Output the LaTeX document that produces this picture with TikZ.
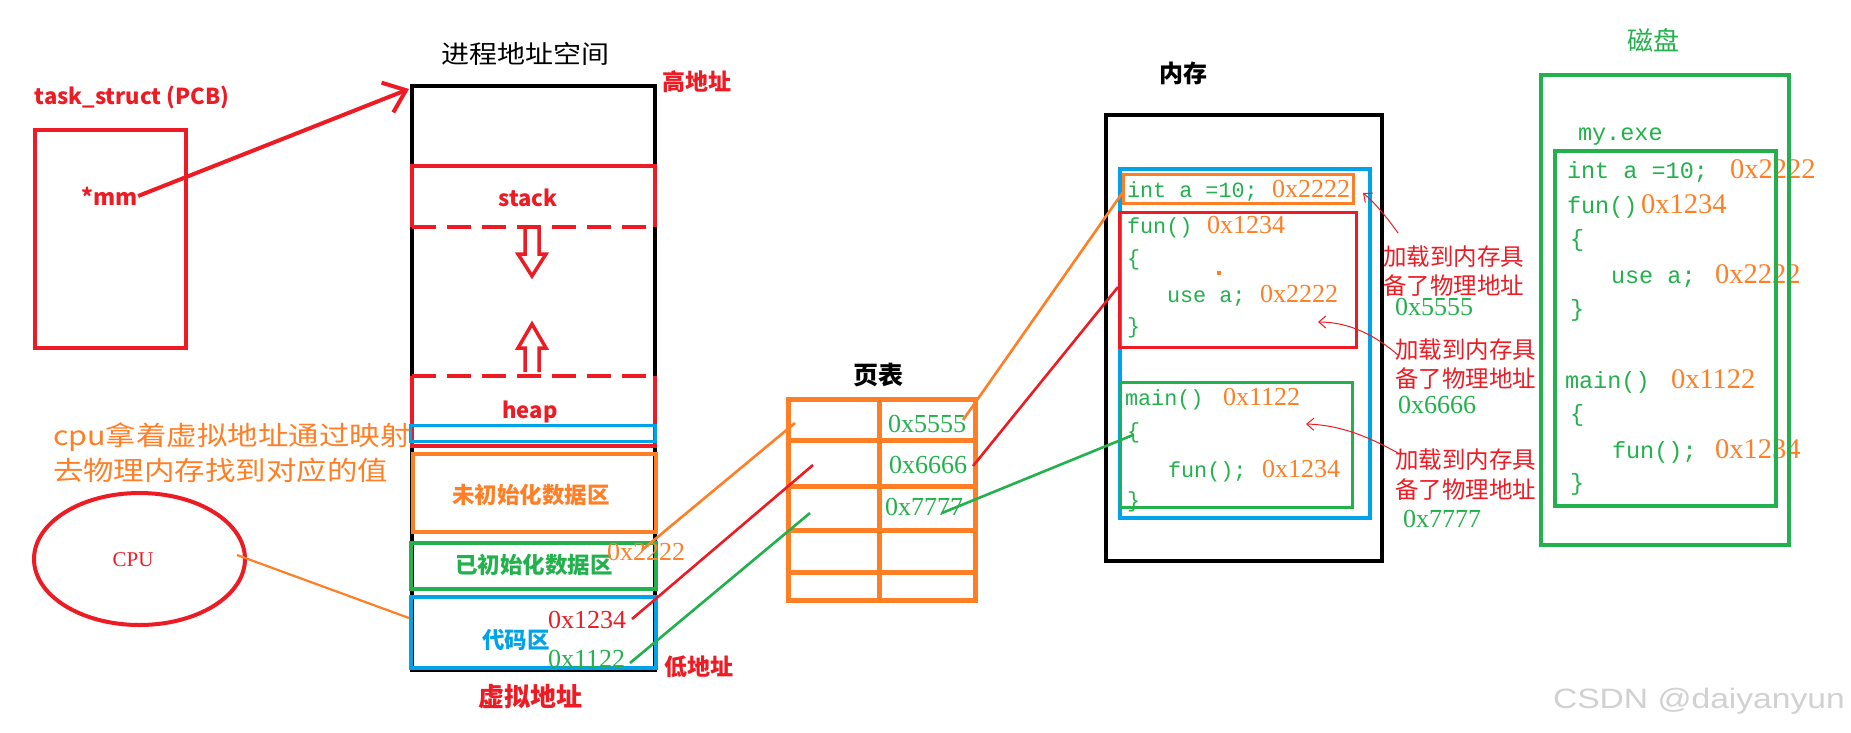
\documentclass[tikz,border=0pt]{standalone}
\usepackage{fontspec}
\usepackage{graphicx}
\setmainfont{Noto Sans CJK SC}
\newfontfamily\codefont{Liberation Mono}
\newfontfamily\hexfont{Liberation Serif}
\newfontfamily\markfont{Liberation Sans}
\usetikzlibrary{arrows.meta,shapes.geometric}
\definecolor{pred}{HTML}{ED1C24}
\definecolor{porange}{HTML}{FF7F27}
\definecolor{pgreen}{HTML}{22B14C}
\definecolor{pblue}{HTML}{00A2E8}
\newcommand{\fsz}[1]{\fontsize{#1}{#1}\selectfont}

\begin{document}
\begin{tikzpicture}[x=1pt,y=-1pt,
  every node/.style={inner sep=0pt,outer sep=0pt},
  memcode/.style={anchor=base west,text=pgreen,font=\codefont\fsz{21.8}},
  memhex/.style={anchor=base west,text=porange,font=\hexfont\fsz{26}},
  dskcode/.style={anchor=base west,text=pgreen,font=\codefont\fsz{23.5}},
  dskhex/.style={anchor=base west,text=porange,font=\hexfont\fsz{28.5}},
  grnhex/.style={anchor=base west,text=pgreen,font=\hexfont\fsz{26}},
  redhex/.style={anchor=base west,text=pred,font=\hexfont\fsz{26}},
  orghex/.style={anchor=base west,text=porange,font=\hexfont\fsz{26}},
  boldlab/.style={font=\bfseries\fsz{#1}},
  note/.style={anchor=west,text=pred,font=\fsz{23.5}},
  frame/.style={line width=4pt},
  thinbox/.style={line width=3pt},
  maplink/.style={line width=2.6pt},
  gapline/.style={dash pattern=on 24pt off 11pt},
  noteline/.style={line width=1pt,pred,-{Straight Barb[length=7pt,width=12pt]}},
]
\fill[white] (0,0) rectangle (1851,732);
\useasboundingbox (0,0) rectangle (1851,732);

% ---------- task_struct ----------
\node[boldlab=22,text=pred] (pcbtitle) at (132,97) {task\_struct (PCB)};
\draw[pred,frame] (35,130) rectangle (186,348);
\node[boldlab=22.5,text=pred] (mm) at (110,196) {*mm};

% ---------- virtual address space ----------
\node[font=\fsz{25}] (vastitle) at (525,54) {\scalebox{1.12}[1]{进程地址空间}};
\draw[frame] (412,86) rectangle (655,670);
\coordinate (vastop) at (409,89);

% stack
\draw[pred,frame] (412,227) -- (412,166) -- (655,166) -- (655,227);
\draw[pred,frame,gapline] (412,227) -- (655,227);
\node[boldlab=22,text=pred] (stack) at (528,198) {stack};
\draw[pred,line width=3.5pt,line join=miter]
  (525,229) -- (525,254) -- (518,254) -- (532,276) -- (546,254) -- (539,254) -- (539,229);

% heap
\draw[pred,line width=3.5pt,line join=miter]
  (525,372) -- (525,348) -- (518,348) -- (532,324) -- (546,348) -- (539,348) -- (539,372);
\draw[pred,frame] (412,376) -- (412,446) -- (655,446) -- (655,376);
\draw[pred,frame,gapline] (412,376) -- (655,376);
\node[boldlab=22,text=pred] (heap) at (530,412) {heap};
\draw[pblue,line width=3pt] (410,425.5) rectangle (655,441.5);

% data and code segments
\draw[porange,frame] (413,454) rectangle (656,532);
\node[boldlab=22.5,text=porange] (bss) at (531,495) {未初始化数据区};
\draw[pgreen,frame] (411,543) rectangle (656,589);
\node[boldlab=22.5,text=pgreen] (data) at (534,565) {已初始化数据区};
\draw[pblue,frame] (411,597) rectangle (656,668);
\node[boldlab=22.5,text=pblue] (text) at (516,640) {代码区};

\node[boldlab=23,text=pred] (high) at (697,82) {高地址};
\node[boldlab=23,text=pred] (low) at (699,667) {低地址};
\node[boldlab=26,text=pred] (vaddr) at (530,697) {虚拟地址};

\node[orghex] (va2222) at (607,560) {0x2222};
\node[redhex] (va1234) at (548,628) {0x1234};
\node[grnhex] (va1122) at (548,667) {0x1122};

\draw[pred,line width=4pt,-{Straight Barb[length=20pt,width=32pt]}] (mm.east) -- (vastop);

% ---------- CPU ----------
\node[anchor=west,text=porange,font=\fsz{26.5}] (cpunote1) at (53,437)
  {\scalebox{1.15}[1]{cpu拿着虚拟地址通过映射}};
\node[anchor=west,text=porange,font=\fsz{26.5}] (cpunote2) at (53,470)
  {\scalebox{1.15}[1]{去物理内存找到对应的值}};
\node[ellipse,draw=pred,line width=4pt,minimum width=211pt,minimum height=132pt] (cpu) at (139.5,559) {};
\node[text=pred,font=\hexfont\fsz{21}] (cpulabel) at (133,560) {CPU};
\coordinate (cpuport) at (237,555);
\coordinate (codeport) at (409,618);
\draw[porange,line width=2.2pt] (cpuport) -- (codeport);

% ---------- page table ----------
\node[font=\bfseries\fsz{25}] (pttitle) at (878,375) {页表};
\draw[porange,line width=5pt] (788.5,399.5) rectangle (975.5,600.5);
\draw[porange,line width=5pt] (879,399.5) -- (879,600.5);
\foreach \r in {440,486,530.5,572.5}
  \draw[porange,line width=5pt] (788.5,\r) -- (975.5,\r);
\node[grnhex] (pa5555) at (888,432) {0x5555};
\node[grnhex] (pa6666) at (889,473) {0x6666};
\node[grnhex] (pa7777) at (885,515) {0x7777};

% ---------- physical memory ----------
\node[font=\bfseries\fsz{24}] (memtitle) at (1183,73) {内存};
\draw[frame] (1106,115) rectangle (1382,561);
\draw[pblue,frame] (1120,169) rectangle (1370,518);
\draw[porange,thinbox] (1123.5,174.5) rectangle (1353.5,203.5);
\draw[pred,thinbox] (1119.5,212.5) rectangle (1356.5,347.5);
\draw[pgreen,thinbox] (1120.5,382.5) rectangle (1352.5,507.5);

\node[memcode] (mint) at (1127,197) {int a =10;};
\node[memhex] (mh2222) at (1272,197) {0x2222};
\node[memcode] (mfun) at (1127,233) {fun()};
\node[memhex] (mh1234) at (1207,233) {0x1234};
\node[memcode] (mfo) at (1127,265) {\{};
\node[memcode] (muse) at (1167,302) {use a;};
\node[memhex] (mhuse) at (1260,302) {0x2222};
\node[memcode] (mfc) at (1127,333) {\}};
\node[memcode] (mmain) at (1125,405) {main()};
\node[memhex] (mh1122) at (1223,405) {0x1122};
\node[memcode] (mmo) at (1127,438) {\{};
\node[memcode] (mcall) at (1168,477) {fun();};
\node[memhex] (mhcall) at (1262,477) {0x1234};
\node[memcode] (mmc) at (1127,507) {\}};
\fill[porange] (1217,271) rectangle (1221,275);

% ---------- mapping links ----------
\coordinate (v1) at (642,550);  \coordinate (p1in) at (795,423);
\coordinate (p1out) at (963,420); \coordinate (m1) at (1123,192);
\coordinate (v2) at (632,619);  \coordinate (p2in) at (813,465);
\coordinate (p2out) at (973,466); \coordinate (m2) at (1118,287);
\coordinate (v3) at (630,663);  \coordinate (p3in) at (810,513);
\coordinate (p3out) at (942,513); \coordinate (m3) at (1133,435);
\draw[porange,maplink] (v1) -- (p1in);
\draw[porange,maplink] (p1out) -- (m1);
\draw[pred,maplink] (v2) -- (p2in);
\draw[pred,maplink] (p2out) -- (m2);
\draw[pgreen,maplink] (v3) -- (p3in);
\draw[pgreen,maplink] (p3out) -- (m3);

% ---------- load notes ----------
\node[note] (n1a) at (1383,257) {加载到内存具};
\node[note] (n1b) at (1383,286) {备了物理地址};
\node[grnhex] (n1c) at (1395,315) {0x5555};
\node[note] (n2a) at (1395,350) {加载到内存具};
\node[note] (n2b) at (1395,379) {备了物理地址};
\node[grnhex] (n2c) at (1398,413) {0x6666};
\node[note] (n3a) at (1395,460) {加载到内存具};
\node[note] (n3b) at (1395,490) {备了物理地址};
\node[grnhex] (n3c) at (1403,527) {0x7777};
\coordinate (s1) at (1398,233); \coordinate (t1) at (1363,193);
\coordinate (s2) at (1398,355); \coordinate (t2) at (1318,322);
\coordinate (s3) at (1398,453); \coordinate (t3) at (1306,424);
\draw[noteline] (s1) .. controls (1386,216) and (1373,201) .. (t1);
\draw[noteline] (s2) .. controls (1376,336) and (1350,322) .. (t2);
\draw[noteline] (s3) .. controls (1376,441) and (1345,425) .. (t3);

% ---------- disk ----------
\node[text=pgreen,font=\fsz{26}] (dsktitle) at (1653,40) {磁盘};
\node[dskcode] (dexe) at (1578,140) {my.exe};
\node[dskcode] (dint) at (1567,178) {int a =10;};
\node[dskhex] (dh2222) at (1730,178) {0x2222};
\node[dskcode] (dfun) at (1567,213) {fun()};
\node[dskhex] (dh1234) at (1641,213) {0x1234};
\node[dskcode] (dfo) at (1570,246) {\{};
\node[dskcode] (duse) at (1611,283) {use a;};
\node[dskhex] (dhuse) at (1715,283) {0x2222};
\node[dskcode] (dfc) at (1570,316) {\}};
\node[dskcode] (dmain) at (1565,388) {main()};
\node[dskhex] (dh1122) at (1671,388) {0x1122};
\node[dskcode] (dmo) at (1570,421) {\{};
\node[dskcode] (dcall) at (1612,458) {fun();};
\node[dskhex] (dhcall) at (1715,458) {0x1234};
\node[dskcode] (dmc) at (1570,490) {\}};
\draw[pgreen,frame] (1541,75) rectangle (1789,545);
\draw[pgreen,frame] (1555,151) rectangle (1776,506);

% ---------- watermark ----------
\node[anchor=base west,text=black!18,font=\markfont\fsz{28}] (wm) at (1553,708)
  {\scalebox{1.2}[1]{CSDN @daiyanyun}};
\end{tikzpicture}
\end{document}
